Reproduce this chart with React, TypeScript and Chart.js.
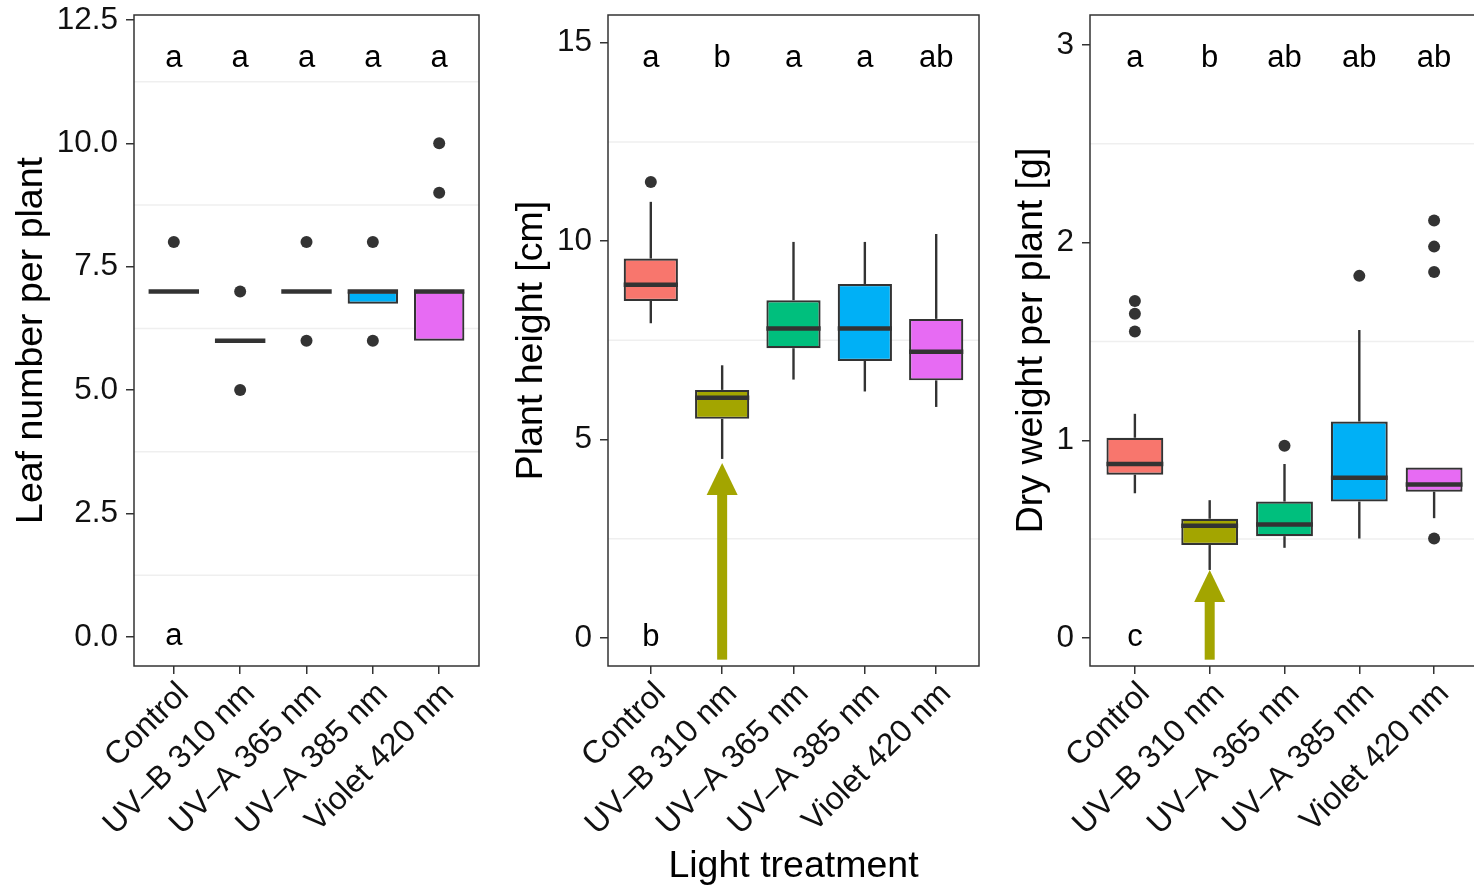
import React, { useEffect, useRef } from 'react';
import { Chart, registerables } from 'chart.js';

Chart.register(...registerables);
Chart.defaults.font.family = "'Liberation Sans', Arial, Helvetica, sans-serif";

// ---------- shared ----------
const categories = ['Control', 'UV–B 310 nm', 'UV–A 365 nm', 'UV–A 385 nm', 'Violet 420 nm'];
const fillColors = ['#F8766D', '#A3A500', '#00BF7D', '#00B0F6', '#E76BF3'];
const xTitle = 'Light treatment';

// ---------- panel 1: leaf number ----------
const leafQ1 = [7, 6, 7, 6.75, 6];
const leafMedian = [7, 6, 7, 7, 7];
const leafQ3 = [7, 6, 7, 7, 7];
const leafWhiskerLow = [7, 6, 7, 6.75, 6];
const leafWhiskerHigh = [7, 6, 7, 7, 7];
const leafOutliers = [[8], [7, 5], [8, 6], [8, 6], [10, 9]];
const leafLetters = ['a', 'a', 'a', 'a', 'a'];
const leafBaseLetter = 'a';
const leafLetterY = 11.72;
const leafTicks = [0, 2.5, 5, 7.5, 10, 12.5];
const leafMinorGrid = [1.25, 3.75, 6.25, 8.75, 11.25];
const leafRange = [-0.59, 12.6];

// ---------- panel 2: plant height ----------
const heightQ1 = [8.49, 5.52, 7.3, 6.98, 6.49];
const heightMedian = [8.9, 6.05, 7.8, 7.8, 7.21];
const heightQ3 = [9.56, 6.25, 8.51, 8.92, 8.04];
const heightWhiskerLow = [7.93, 4.51, 6.51, 6.21, 5.82];
const heightWhiskerHigh = [10.99, 6.87, 9.98, 9.98, 10.18];
const heightOutliers = [[11.49], [], [], [], []];
const heightLetters = ['a', 'b', 'a', 'a', 'ab'];
const heightBaseLetter = 'b';
const heightLetterY = 14.6;
const heightTicks = [0, 5, 10, 15];
const heightMinorGrid = [2.5, 7.5, 12.5];
const heightRange = [-0.71, 15.7];
const heightArrow = [-0.55, 4.41]; // tail, tip (at UV-B)

// ---------- panel 3: dry weight ----------
const dryQ1 = [0.826, 0.47, 0.515, 0.69, 0.74];
const dryMedian = [0.88, 0.568, 0.574, 0.81, 0.777];
const dryQ3 = [1.013, 0.603, 0.69, 1.095, 0.862];
const dryWhiskerLow = [0.732, 0.344, 0.456, 0.503, 0.606];
const dryWhiskerHigh = [1.134, 0.697, 0.88, 1.558, 0.862];
const dryOutliers = [[1.705, 1.64, 1.55], [], [0.972], [1.832], [2.112, 1.98, 1.852, 0.503]];
const dryLetters = ['a', 'b', 'ab', 'ab', 'ab'];
const dryBaseLetter = 'c';
const dryLetterY = 2.93;
const dryTicks = [0, 1, 2, 3];
const dryMinorGrid = [0.5, 1.5, 2.5];
const dryRange = [-0.142, 3.152];
const dryArrow = [-0.11, 0.344];

const arrowCategory = 1;

const panels = [
  {
    left: 0, axisWidth: 134, yTitle: 'Leaf number per plant', range: leafRange, ticks: leafTicks, decimals: 1,
    minor: leafMinorGrid, q1: leafQ1, med: leafMedian, q3: leafQ3, lo: leafWhiskerLow, hi: leafWhiskerHigh,
    out: leafOutliers, letters: leafLetters, letterY: leafLetterY, baseLetter: leafBaseLetter, arrow: null, showX: false,
  },
  {
    left: 500, axisWidth: 108, yTitle: 'Plant height [cm]', range: heightRange, ticks: heightTicks, decimals: 0,
    minor: heightMinorGrid, q1: heightQ1, med: heightMedian, q3: heightQ3, lo: heightWhiskerLow, hi: heightWhiskerHigh,
    out: heightOutliers, letters: heightLetters, letterY: heightLetterY, baseLetter: heightBaseLetter, arrow: heightArrow, showX: true,
  },
  {
    left: 1000, axisWidth: 90, yTitle: 'Dry weight per plant [g]', range: dryRange, ticks: dryTicks, decimals: 0,
    minor: dryMinorGrid, q1: dryQ1, med: dryMedian, q3: dryQ3, lo: dryWhiskerLow, hi: dryWhiskerHigh,
    out: dryOutliers, letters: dryLetters, letterY: dryLetterY, baseLetter: dryBaseLetter, arrow: dryArrow, showX: false,
  },
];

const CANVAS_W = 481;
const CANVAS_H = 887;
const PLOT_BOTTOM = 666;
const INK = '#333333';

function boxPlugin(spec: any) {
  return {
    id: 'boxExtras',
    beforeDatasetsDraw(chart: any) {
      const { ctx, chartArea: a, scales } = chart;
      const y = scales.y;
      ctx.save();
      ctx.beginPath();
      ctx.rect(a.left, a.top, a.right - a.left, a.bottom - a.top);
      ctx.clip();
      ctx.strokeStyle = '#efefef';
      ctx.lineWidth = 1.5;
      spec.minor.forEach((v: number) => {
        const py = y.getPixelForValue(v);
        ctx.beginPath();
        ctx.moveTo(a.left, py);
        ctx.lineTo(a.right, py);
        ctx.stroke();
      });
      const meta = chart.getDatasetMeta(0);
      ctx.strokeStyle = INK;
      ctx.lineWidth = 2.4;
      meta.data.forEach((el: any, i: number) => {
        const x = el.x;
        const segs = [[spec.q3[i], spec.hi[i]], [spec.q1[i], spec.lo[i]]];
        segs.forEach(([from, to]) => {
          if (from === to) return;
          ctx.beginPath();
          ctx.moveTo(x, y.getPixelForValue(from));
          ctx.lineTo(x, y.getPixelForValue(to));
          ctx.stroke();
        });
      });
      ctx.restore();
    },
    afterDatasetsDraw(chart: any) {
      const { ctx, chartArea: a, scales } = chart;
      const y = scales.y;
      const xs = scales.x;
      const meta = chart.getDatasetMeta(0);
      ctx.save();
      // medians
      ctx.strokeStyle = INK;
      ctx.lineWidth = 4.5;
      ctx.lineCap = 'butt';
      meta.data.forEach((el: any, i: number) => {
        const py = y.getPixelForValue(spec.med[i]);
        ctx.beginPath();
        ctx.moveTo(el.x - el.width / 2, py);
        ctx.lineTo(el.x + el.width / 2, py);
        ctx.stroke();
      });
      // letters
      ctx.fillStyle = '#000';
      ctx.font = "31px 'Liberation Sans', Arial, sans-serif";
      ctx.textAlign = 'center';
      ctx.textBaseline = 'middle';
      spec.letters.forEach((t: string, i: number) => {
        ctx.fillText(t, xs.getPixelForValue(i), y.getPixelForValue(spec.letterY));
      });
      ctx.fillText(spec.baseLetter, xs.getPixelForValue(0), y.getPixelForValue(0));
      // arrow
      if (spec.arrow) {
        const ax = xs.getPixelForValue(arrowCategory);
        const yTail = y.getPixelForValue(spec.arrow[0]);
        const yTip = y.getPixelForValue(spec.arrow[1]);
        const headLen = 32;
        const headHalf = 15.5;
        const shaftHalf = 5;
        ctx.fillStyle = '#A3A500';
        ctx.fillRect(ax - shaftHalf, yTip + headLen - 1, shaftHalf * 2, yTail - yTip - headLen + 1);
        ctx.beginPath();
        ctx.moveTo(ax, yTip);
        ctx.lineTo(ax - headHalf, yTip + headLen);
        ctx.lineTo(ax + headHalf, yTip + headLen);
        ctx.closePath();
        ctx.fill();
      }
      // panel border
      ctx.strokeStyle = INK;
      ctx.lineWidth = 1.5;
      ctx.strokeRect(a.left, a.top, a.right - a.left, a.bottom - a.top);
      ctx.restore();
    },
  };
}

function Panel({ spec }: { spec: any }) {
  const ref = useRef<HTMLCanvasElement | null>(null);
  useEffect(() => {
    if (!ref.current) return;
    const outlierPoints: { x: number; y: number }[] = [];
    spec.out.forEach((vals: number[], i: number) => vals.forEach((v) => outlierPoints.push({ x: i, y: v })));
    const chart = new Chart(ref.current, {
      type: 'bar',
      data: {
        datasets: [
          {
            type: 'bar',
            data: categories.map((_, i) => ({ x: i, y: [spec.q1[i], spec.q3[i]] })) as any,
            backgroundColor: fillColors,
            borderColor: INK,
            borderWidth: 2.2,
            borderSkipped: false,
            barPercentage: 0.76,
            categoryPercentage: 1,
          } as any,
          {
            type: 'scatter',
            data: outlierPoints,
            pointRadius: 6,
            pointBackgroundColor: INK,
            pointBorderWidth: 0,
            showLine: false,
          } as any,
        ],
      },
      options: {
        responsive: false,
        animation: false,
        events: [],
        layout: { autoPadding: false, padding: { top: 15, left: 0, right: 2, bottom: 0 } },
        plugins: { legend: { display: false }, tooltip: { enabled: false } },
        scales: {
          x: {
            type: 'linear',
            offset: false,
            min: -0.6,
            max: 4.6,
            afterBuildTicks: (s: any) => {
              s.ticks = categories.map((_, i) => ({ value: i }));
            },
            afterFit: (s: any) => {
              s.height = CANVAS_H - PLOT_BOTTOM;
              s.paddingLeft = 0;
              s.paddingRight = 0;
            },
            ticks: {
              callback: (v: any) => categories[Math.round(Number(v))],
              minRotation: 45,
              maxRotation: 45,
              autoSkip: false,
              padding: 1,
              labelOffset: 10,
              color: '#111',
              font: { size: 32 },
            },
            grid: { offset: false, drawOnChartArea: false, drawTicks: true, tickLength: 8, color: INK, lineWidth: 1.5 },
            border: { display: false },
            title: {
              display: spec.showX,
              text: xTitle,
              color: '#000',
              font: { size: 37.5, lineHeight: 1.1 },
              padding: { top: 0, bottom: 0 },
            },
          },
          y: {
            type: 'linear',
            min: spec.range[0],
            max: spec.range[1],
            afterBuildTicks: (s: any) => {
              s.ticks = spec.ticks.map((v: number) => ({ value: v }));
            },
            afterFit: (s: any) => {
              s.width = spec.axisWidth;
              s.paddingTop = 0;
              s.paddingBottom = 0;
            },
            ticks: {
              callback: (v: any) => Number(v).toFixed(spec.decimals),
              padding: 8,
              color: '#111',
              font: { size: 31.5 },
            },
            grid: { drawOnChartArea: false, drawTicks: true, tickLength: 8, color: INK, lineWidth: 1.5 },
            border: { display: false },
            title: {
              display: true,
              text: spec.yTitle,
              color: '#000',
              font: { size: 37.5 },
              padding: { top: 9, bottom: 0 },
            },
          },
        },
      } as any,
      plugins: [boxPlugin(spec)],
    });
    return () => chart.destroy();
  }, [spec]);
  return (
    <canvas
      ref={ref}
      width={CANVAS_W}
      height={CANVAS_H}
      style={{ position: 'absolute', left: spec.left, top: 0, width: CANVAS_W, height: CANVAS_H }}
    />
  );
}

export default function App() {
  return (
    <div
      style={{
        position: 'fixed',
        left: 0,
        top: 0,
        width: 1474,
        height: 887,
        overflow: 'hidden',
        background: '#ffffff',
      }}
    >
      {panels.map((p, i) => (
        <Panel key={i} spec={p} />
      ))}
    </div>
  );
}
